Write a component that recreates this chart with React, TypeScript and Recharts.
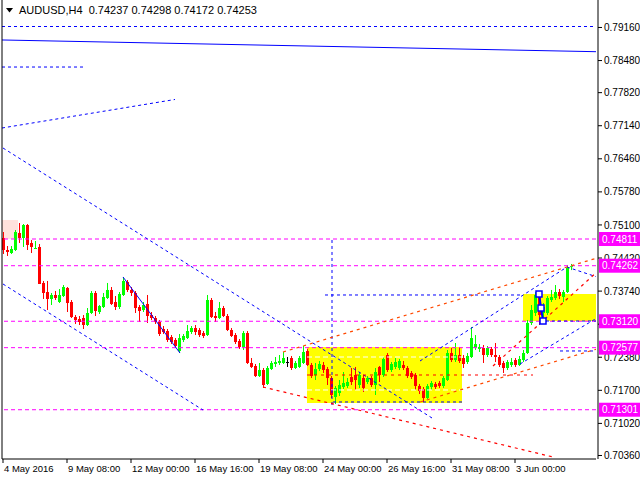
import React from 'react';
import { ComposedChart, Bar, XAxis, YAxis, ReferenceLine, ReferenceArea, ReferenceDot } from 'recharts';

// ---- OHLC series (H4 bars, index 0 = 4 May 2016 00:00) ----
const opens = [
  0.74832, 0.74585, 0.74523, 0.74585, 0.74935, 0.74832, 0.75099, 0.74729, 0.74616, 0.74647,
  0.73907, 0.73721, 0.73578, 0.73660, 0.73516, 0.73639, 0.73804, 0.73516, 0.73207, 0.73166,
  0.73187, 0.73043, 0.73290, 0.73701, 0.73310, 0.73413, 0.73598, 0.73763, 0.73516, 0.73413,
  0.73660, 0.73927, 0.73763, 0.73701, 0.73413, 0.73351, 0.73475, 0.73248, 0.73187, 0.73105,
  0.72961, 0.72919, 0.72796, 0.72735, 0.72508, 0.72735, 0.72775, 0.72899, 0.72981, 0.72940,
  0.72878, 0.72837, 0.73557, 0.73228, 0.73187, 0.73392, 0.73228, 0.72940, 0.72837, 0.72714,
  0.72591, 0.72878, 0.72262, 0.72200, 0.71994, 0.72118, 0.71830, 0.72138, 0.72241, 0.72262,
  0.72262, 0.72282, 0.72364, 0.72159, 0.72180, 0.72262, 0.72508, 0.72221, 0.72015, 0.72138,
  0.72221, 0.72138, 0.71953, 0.71563, 0.71645, 0.71768, 0.71789, 0.71974, 0.72015, 0.71809,
  0.71953, 0.71871, 0.71953, 0.71809, 0.72180, 0.72015, 0.72426, 0.72118, 0.72180, 0.72159,
  0.72221, 0.72159, 0.72056, 0.72015, 0.71789, 0.71727, 0.71542, 0.71768, 0.71830, 0.71851,
  0.71789, 0.71912, 0.72467, 0.72323, 0.72426, 0.72364, 0.72282, 0.72385, 0.72570, 0.72550,
  0.72570, 0.72426, 0.72550, 0.72426, 0.72385, 0.72262, 0.72159, 0.72221, 0.72323, 0.72221,
  0.72323, 0.72467, 0.73084, 0.73290, 0.73660, 0.73290, 0.73290, 0.73557, 0.73598, 0.73721,
  0.73619, 0.73721, 0.74237,
];
const highs = [
  0.74955, 0.74667, 0.74667, 0.74996, 0.75140, 0.75119, 0.75119, 0.74791, 0.74770, 0.74708,
  0.73948, 0.73948, 0.73701, 0.73742, 0.73783, 0.73865, 0.73824, 0.73557, 0.73248, 0.73228,
  0.73248, 0.73392, 0.73742, 0.73742, 0.73454, 0.73701, 0.73907, 0.73824, 0.73639, 0.73721,
  0.74030, 0.73968, 0.73824, 0.73742, 0.73454, 0.73516, 0.73660, 0.73310, 0.73228, 0.73146,
  0.73022, 0.72961, 0.72837, 0.72775, 0.72858, 0.72858, 0.73043, 0.73022, 0.73043, 0.72981,
  0.72919, 0.73660, 0.73598, 0.73310, 0.73516, 0.73434, 0.73269, 0.72981, 0.72878, 0.72755,
  0.72919, 0.72919, 0.72364, 0.72241, 0.72262, 0.72159, 0.72200, 0.72303, 0.72385, 0.72426,
  0.72488, 0.72385, 0.72406, 0.72303, 0.72406, 0.72611, 0.72550, 0.72262, 0.72262, 0.72303,
  0.72282, 0.72180, 0.71994, 0.71789, 0.71912, 0.72077, 0.71953, 0.72159, 0.72180, 0.72077,
  0.72015, 0.71994, 0.71994, 0.72159, 0.72200, 0.72385, 0.72467, 0.72282, 0.72364, 0.72344,
  0.72303, 0.72200, 0.72097, 0.72056, 0.71830, 0.71768, 0.71830, 0.71892, 0.71871, 0.71892,
  0.71994, 0.72529, 0.72570, 0.72673, 0.72591, 0.72426, 0.72467, 0.73002, 0.72837, 0.72652,
  0.72632, 0.72611, 0.72591, 0.72673, 0.72426, 0.72303, 0.72323, 0.72364, 0.72364, 0.72406,
  0.72529, 0.73146, 0.73454, 0.73721, 0.73701, 0.73495, 0.73639, 0.73763, 0.73865, 0.73783,
  0.73763, 0.74277, 0.74298,
];
const lows = [
  0.74503, 0.74462, 0.74503, 0.74564, 0.74729, 0.74647, 0.74585, 0.74523, 0.74606, 0.73886,
  0.73578, 0.73351, 0.73454, 0.73557, 0.73495, 0.73619, 0.73310, 0.73187, 0.73063, 0.73043,
  0.72961, 0.73022, 0.73269, 0.73228, 0.73269, 0.73392, 0.73578, 0.73454, 0.73351, 0.73372,
  0.73639, 0.73721, 0.73639, 0.73290, 0.73105, 0.73310, 0.73084, 0.73146, 0.73063, 0.72817,
  0.72858, 0.72693, 0.72652, 0.72570, 0.72467, 0.72693, 0.72755, 0.72858, 0.72837, 0.72796,
  0.72775, 0.72817, 0.73187, 0.73105, 0.73166, 0.73207, 0.72919, 0.72796, 0.72652, 0.72550,
  0.72529, 0.72241, 0.72159, 0.71974, 0.71974, 0.71748, 0.71809, 0.72118, 0.72180, 0.72221,
  0.72241, 0.72180, 0.72118, 0.72138, 0.72159, 0.72241, 0.72200, 0.71953, 0.71912, 0.72097,
  0.72056, 0.71809, 0.71542, 0.71419, 0.71583, 0.71727, 0.71748, 0.71809, 0.71707, 0.71748,
  0.71666, 0.71830, 0.71768, 0.71604, 0.71871, 0.71974, 0.72077, 0.72077, 0.72138, 0.72118,
  0.72118, 0.71953, 0.71933, 0.71707, 0.71624, 0.71460, 0.71522, 0.71707, 0.71727, 0.71748,
  0.71748, 0.71892, 0.72282, 0.72282, 0.72262, 0.72159, 0.72241, 0.72364, 0.72529, 0.72488,
  0.72262, 0.72385, 0.72385, 0.72282, 0.72180, 0.72056, 0.72118, 0.72180, 0.72180, 0.72200,
  0.72282, 0.72447, 0.73043, 0.73228, 0.73043, 0.73146, 0.73248, 0.73516, 0.73557, 0.73578,
  0.73516, 0.73701, 0.74172,
];
const closes = [
  0.74585, 0.74544, 0.74606, 0.74955, 0.74832, 0.75099, 0.74688, 0.74647, 0.74626, 0.73886,
  0.73701, 0.73578, 0.73660, 0.73598, 0.73660, 0.73824, 0.73495, 0.73207, 0.73146, 0.73105,
  0.73043, 0.73290, 0.73701, 0.73331, 0.73434, 0.73619, 0.73763, 0.73475, 0.73413, 0.73680,
  0.73948, 0.73763, 0.73701, 0.73392, 0.73331, 0.73454, 0.73228, 0.73187, 0.73105, 0.72858,
  0.72899, 0.72735, 0.72693, 0.72611, 0.72775, 0.72817, 0.72919, 0.72981, 0.72899, 0.72837,
  0.72817, 0.73557, 0.73207, 0.73187, 0.73392, 0.73228, 0.72940, 0.72817, 0.72693, 0.72591,
  0.72878, 0.72262, 0.72180, 0.71994, 0.72118, 0.71809, 0.72159, 0.72262, 0.72282, 0.72303,
  0.72364, 0.72282, 0.72159, 0.72262, 0.72364, 0.72488, 0.72221, 0.71994, 0.72138, 0.72241,
  0.72118, 0.71953, 0.71604, 0.71748, 0.71809, 0.71851, 0.71871, 0.71871, 0.71912, 0.72015,
  0.71748, 0.71953, 0.71809, 0.72077, 0.72015, 0.72344, 0.72118, 0.72241, 0.72282, 0.72303,
  0.72159, 0.71994, 0.71974, 0.71789, 0.71686, 0.71542, 0.71789, 0.71851, 0.71768, 0.71789,
  0.71953, 0.72467, 0.72323, 0.72426, 0.72303, 0.72241, 0.72406, 0.72775, 0.72652, 0.72591,
  0.72426, 0.72570, 0.72426, 0.72385, 0.72221, 0.72159, 0.72282, 0.72282, 0.72221, 0.72344,
  0.72467, 0.73084, 0.73351, 0.73660, 0.73248, 0.73413, 0.73598, 0.73619, 0.73721, 0.73639,
  0.73721, 0.74215, 0.74253,
];

// ---- axes ----
const timeTicks = [0, 16, 32, 48, 64, 80, 96, 112, 128];
const timeLabels = ['4 May 2016', '9 May 08:00', '12 May 00:00', '16 May 16:00', '19 May 08:00', '24 May 00:00', '26 May 16:00', '31 May 08:00', '3 Jun 00:00'];
const priceTicks = [0.7916, 0.7848, 0.7782, 0.7714, 0.7646, 0.7578, 0.751, 0.7442, 0.7374, 0.7306, 0.7238, 0.717, 0.7102, 0.7036];
const levelPrices = [0.74811, 0.74262, 0.7312, 0.72577, 0.71301];
const headerText = 'AUDUSD,H4  0.74237 0.74298 0.74172 0.74253';

// ---- drawn objects (bar index, price) ----
const blueSolidLines = [
  [-0.25, 0.78903, 148.25, 0.78662],
  [30, 0.7403, 44.25, 0.72467],
  [134, 0.7368, 135, 0.73125],
];
const blueDashedLines = [
  [-0.25, 0.7918, 148.25, 0.7918],
  [-0.25, 0.78347, 20, 0.78347],
  [-0.25, 0.77093, 43, 0.7768],
  [0, 0.76682, 107.25, 0.71131],
  [0, 0.73886, 50, 0.71295],
  [82.25, 0.74791, 82.25, 0.71337],
  [80.5, 0.7366, 130, 0.7366],
  [82.5, 0.7146, 114.75, 0.7146],
  [134.25, 0.73125, 148.25, 0.73125],
  [104.25, 0.72303, 141, 0.74235],
  [141, 0.74235, 148.5, 0.7403],
  [129.25, 0.72241, 148.5, 0.73187],
  [139.25, 0.72509, 148.5, 0.72509],
];
const orangeDottedLines = [
  [70, 0.72488, 148.5, 0.7442],
  [104.25, 0.7146, 148.5, 0.7255],
];
const redDottedLines = [
  [65, 0.71768, 137.5, 0.70329],
  [122.5, 0.722, 148.5, 0.74133],
  [76, 0.72015, 132.5, 0.72015],
];
const whiteDashedLines = [
  [76, 0.72385, 114.75, 0.72385],
  [76, 0.71707, 114.75, 0.71707],
];
const yellowBoxes = [
  [76, 0.71439, 114.75, 0.72591],
  [130, 0.73125, 148.25, 0.7368],
];
const pinkBoxes = [[-0.25, 0.74811, 3.75, 0.75202]];
const squareMarkers = [
  [134, 0.7368],
  [134.5, 0.73392],
  [135, 0.73125],
];

const data = opens.map((o, i) => ({
  i,
  open: o,
  high: highs[i],
  low: lows[i],
  close: closes[i],
  range: [lows[i], highs[i]],
}));

const FONT = 'Liberation Sans, Arial, sans-serif';
const Y_DOMAIN: [number, number] = [0.70288, 0.79725];

const Candle = (props: any) => {
  const { x, y, width, height, payload } = props;
  if (x == null || y == null || !payload) return null;
  const top = Math.min(y, y + height);
  const h = Math.abs(height);
  const { open, close, high, low } = payload;
  const k = high - low > 0 ? h / (high - low) : 0;
  const yO = top + (high - open) * k;
  const yC = top + (high - close) * k;
  const color = close > open ? '#00ff00' : close < open ? '#ff0000' : '#000000';
  const cx = Math.round(x + width / 2);
  const bt = Math.min(yO, yC);
  const bh = Math.max(1, Math.abs(yC - yO));
  return (
    <g>
      <line x1={cx + 0.5} x2={cx + 0.5} y1={top} y2={top + h} stroke={color} strokeWidth={1} />
      <rect x={cx - 1} y={bt} width={3} height={bh} fill={color} />
    </g>
  );
};

// price tag drawn by a narrow right axis placed after the price axis (so it sits on top)
const LevelTick = (props: any) => {
  const { y, payload } = props;
  if (y == null || !payload) return null;
  return (
    <g>
      <rect x={599} y={y - 7} width={41} height={14} fill="#ff00ff" />
      <text x={602} y={y} dy="0.36em" fontSize={10} fontFamily={FONT} fill="#ffffff" textAnchor="start">
        {Number(payload.value).toFixed(5)}
      </text>
    </g>
  );
};

const TimeTick = (props: any) => {
  const { x, y, payload } = props;
  const idx = timeTicks.indexOf(payload.value);
  return (
    <text x={x + 1} y={y} dy="0.71em" fontSize={9.5} fontFamily={FONT} fill="#000" textAnchor="start">
      {idx >= 0 ? timeLabels[idx] : ''}
    </text>
  );
};

const seg = (l: number[]) => [
  { x: l[0], y: l[1] },
  { x: l[2], y: l[3] },
];

export default function App() {
  return (
    <div style={{ position: 'fixed', left: 0, top: 0, width: 640, height: 480, background: '#fff' }}>
      <ComposedChart width={640} height={480} data={data} margin={{ top: 0, right: 0, left: 2, bottom: 0 }}>
        <XAxis
          dataKey="i"
          type="number"
          domain={[-0.25, 148.25]}
          allowDataOverflow
          ticks={timeTicks}
          interval={0}
          height={21}
          tickSize={4}
          tickMargin={2}
          axisLine={{ stroke: '#000' }}
          tickLine={{ stroke: '#000' }}
          tick={<TimeTick />}
        />
        <YAxis
          yAxisId="price"
          orientation="right"
          type="number"
          domain={Y_DOMAIN}
          allowDataOverflow
          ticks={priceTicks}
          interval={0}
          width={42}
          tickSize={4}
          tickMargin={2}
          tickFormatter={(v: number) => v.toFixed(5)}
          axisLine={{ stroke: '#000' }}
          tickLine={{ stroke: '#000' }}
          tick={{ fontSize: 10, fill: '#000', fontFamily: FONT, textAnchor: 'start' }}
        />
        <YAxis
          yAxisId="levels"
          orientation="right"
          type="number"
          domain={Y_DOMAIN}
          allowDataOverflow
          ticks={levelPrices}
          interval={0}
          width={2}
          tickSize={1}
          tickMargin={0}
          axisLine={false}
          tickLine={false}
          tick={<LevelTick />}
        />
        {pinkBoxes.map((b, k) => (
          <ReferenceArea yAxisId="price" key={'p' + k} x1={b[0]} y1={b[1]} x2={b[2]} y2={b[3]} fill="#ffe2dd" fillOpacity={1} stroke="none" ifOverflow="hidden" />
        ))}
        {yellowBoxes.map((b, k) => (
          <ReferenceArea yAxisId="price" key={'y' + k} x1={b[0]} y1={b[1]} x2={b[2]} y2={b[3]} fill="#ffff00" fillOpacity={1} stroke="none" ifOverflow="hidden" />
        ))}
        {whiteDashedLines.map((l, k) => (
          <ReferenceLine yAxisId="price" key={'w' + k} segment={seg(l)} stroke="#ffffff" strokeDasharray="5 3" ifOverflow="hidden" />
        ))}
        {levelPrices.map((v) => (
          <ReferenceLine yAxisId="price" key={'lv' + v} y={v} stroke="#ff00ff" strokeDasharray="4 3" />
        ))}
        {blueDashedLines.map((l, k) => (
          <ReferenceLine yAxisId="price" key={'bd' + k} segment={seg(l)} stroke="#0000ff" strokeDasharray="3 3" ifOverflow="hidden" />
        ))}
        {orangeDottedLines.map((l, k) => (
          <ReferenceLine yAxisId="price" key={'od' + k} segment={seg(l)} stroke="#ff4800" strokeWidth={1.2} strokeDasharray="3 4" ifOverflow="hidden" />
        ))}
        {redDottedLines.map((l, k) => (
          <ReferenceLine yAxisId="price" key={'rd' + k} segment={seg(l)} stroke="#ff0000" strokeWidth={1.2} strokeDasharray="3 4" ifOverflow="hidden" />
        ))}
        <Bar yAxisId="price" dataKey="range" barSize={3} isAnimationActive={false} shape={(p: any) => <Candle {...p} />} />
        {blueSolidLines.map((l, k) => (
          <ReferenceLine yAxisId="price" key={'bs' + k} segment={seg(l)} stroke="#0000ff" strokeWidth={k === 2 ? 2 : 1} ifOverflow="hidden" />
        ))}
        {squareMarkers.map((m, k) => (
          <ReferenceDot
            yAxisId="price"
            key={'sq' + k}
            x={m[0]}
            y={m[1]}
            r={3}
            ifOverflow="hidden"
            shape={(p: any) => (
              <rect x={p.cx - 3} y={p.cy - 3} width={6} height={6} fill="#ffffff" stroke="#0000ff" strokeWidth={1.5} />
            )}
          />
        ))}
        <ReferenceLine yAxisId="price" x={-0.25} stroke="#000" ifOverflow="visible" />
      </ComposedChart>
      <svg style={{ position: 'absolute', left: 6, top: 8 }} width={7} height={5}>
        <polygon points="0,0 7,0 3.5,4.5" fill="#000" />
      </svg>
      <div
        style={{
          position: 'absolute',
          left: 19,
          top: 3,
          fontFamily: FONT,
          fontSize: 11,
          lineHeight: '14px',
          color: '#000',
          whiteSpace: 'pre',
        }}
      >
        {headerText}
      </div>
    </div>
  );
}
